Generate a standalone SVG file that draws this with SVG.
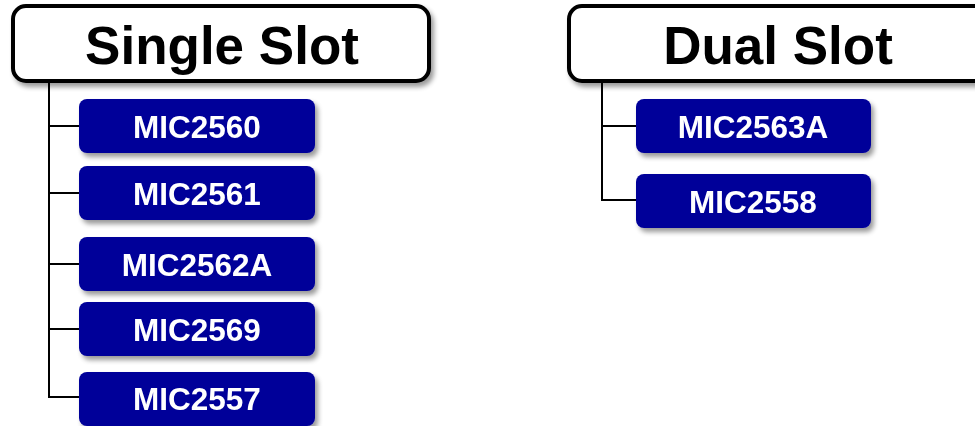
<svg xmlns="http://www.w3.org/2000/svg" width="975" height="426" viewBox="0 0 975 426">
<defs>
<filter id="sh" x="-10%" y="-20%" width="130%" height="160%">
<feGaussianBlur in="SourceAlpha" stdDeviation="2.5"/>
<feOffset dx="3" dy="4" result="b"/>
<feComponentTransfer><feFuncA type="linear" slope="0.4"/></feComponentTransfer>
<feMerge><feMergeNode/><feMergeNode in="SourceGraphic"/></feMerge>
</filter>
<style>
.hdr{fill:#fff;stroke:#000;stroke-width:4}
.ht{font-family:"Liberation Sans",Arial,sans-serif;font-weight:bold;font-size:53px;fill:#000;text-anchor:middle}
.chip{fill:#000099}
.ct{font-family:"Liberation Sans",Arial,sans-serif;font-weight:bold;font-size:31.5px;fill:#fff;text-anchor:middle}
.ln{fill:none;stroke:#000;stroke-width:2}
</style>
</defs>
<rect width="975" height="426" fill="#fff"/>
<g id="connectors">
<path class="ln" d="M49 82V397H80M49 126H80M49 193H80M49 264H80M49 329H80"/>
<path class="ln" d="M602 82V200H636M602 126H636"/>
</g>
<g id="single-slot" filter="url(#sh)">
<rect class="hdr" x="13" y="6" width="416" height="75" rx="13"/>
<text class="ht" x="222" y="64">Single Slot</text>
</g>
<g id="dual-slot" filter="url(#sh)">
<rect class="hdr" x="569" y="6" width="430" height="75" rx="13"/>
<text class="ht" x="778" y="64">Dual Slot</text>
</g>
<g id="mic2560" filter="url(#sh)"><rect class="chip" x="79" y="99" width="236" height="54" rx="8"/><text class="ct" x="197" y="137.5">MIC2560</text></g>
<g id="mic2561" filter="url(#sh)"><rect class="chip" x="79" y="166" width="236" height="54" rx="8"/><text class="ct" x="197" y="204.5">MIC2561</text></g>
<g id="mic2562a" filter="url(#sh)"><rect class="chip" x="79" y="237" width="236" height="54" rx="8"/><text class="ct" x="197" y="275.5">MIC2562A</text></g>
<g id="mic2569" filter="url(#sh)"><rect class="chip" x="79" y="302" width="236" height="54" rx="8"/><text class="ct" x="197" y="340.5">MIC2569</text></g>
<g id="mic2557" filter="url(#sh)"><rect class="chip" x="79" y="372" width="236" height="54" rx="8"/><text class="ct" x="197" y="410">MIC2557</text></g>
<g id="mic2563a" filter="url(#sh)"><rect class="chip" x="636" y="99" width="235" height="54" rx="8"/><text class="ct" x="753" y="137.5">MIC2563A</text></g>
<g id="mic2558" filter="url(#sh)"><rect class="chip" x="636" y="174" width="235" height="54" rx="8"/><text class="ct" x="753" y="212.5">MIC2558</text></g>
</svg>
